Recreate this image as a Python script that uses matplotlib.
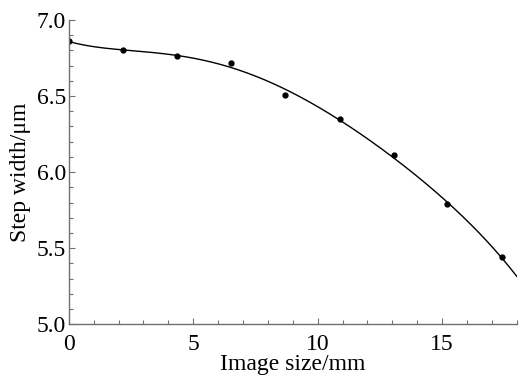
import numpy as np
import matplotlib
matplotlib.use('Agg')
import matplotlib.pyplot as plt
from matplotlib.ticker import MultipleLocator

# measured points
image_size = [0.0, 2.17, 4.34, 6.5, 8.67, 10.88, 13.05, 15.2, 17.39]
step_width = [6.86, 6.80, 6.76, 6.72, 6.51, 6.35, 6.11, 5.79, 5.44]

plt.rcParams['font.family'] = ['Liberation Serif', 'DejaVu Serif']

fig = plt.figure(figsize=(5.29, 3.77), dpi=100)
ax = fig.add_axes([0.130, 0.140, 0.847, 0.807])

# polynomial fit through the measured points
coef = np.polyfit(image_size, step_width, 5)
xs = np.linspace(0, 18, 300)
ax.plot(xs, np.polyval(coef, xs), color='black', lw=1.0)
ax.plot(image_size, step_width, 'o', color='black', ms=3.5)

ax.set_xlim(0, 18)
ax.set_ylim(5.0, 7.0)
ax.xaxis.set_major_locator(MultipleLocator(5))
ax.xaxis.set_minor_locator(MultipleLocator(1))
ax.yaxis.set_major_locator(MultipleLocator(0.5))
ax.yaxis.set_minor_locator(MultipleLocator(0.1))
ax.set_yticks([5.0, 5.5, 6.0, 6.5, 7.0])
ax.set_yticklabels(['5.0', '5.5', '6.0', '6.5', '7.0'])

for s in ['top', 'right']:
    ax.spines[s].set_visible(False)
for s in ['left', 'bottom']:
    ax.spines[s].set_color('#707070')
    ax.spines[s].set_linewidth(1.0)

ax.tick_params(which='both', direction='in', colors='#707070', labelcolor='black',
               labelsize=17, width=0.8)
ax.tick_params(which='major', length=4, pad=2)
ax.tick_params(which='minor', length=3)
ax.tick_params(axis='x', which='major', pad=7)

ax.set_xlabel('Image size/mm', fontsize=17, labelpad=0)
ax.set_ylabel('Step width/μm', fontsize=17, labelpad=4)
ax.xaxis.set_label_coords(0.5, -0.098)

fig.savefig('out.png', dpi=100)
